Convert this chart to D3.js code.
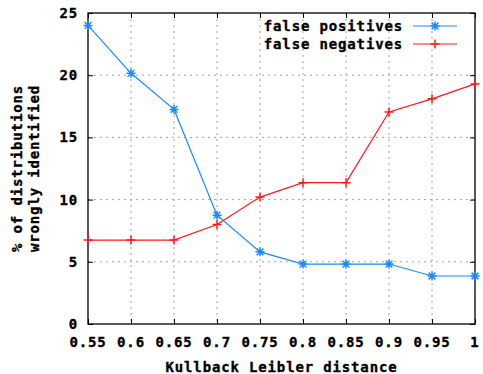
<!DOCTYPE html>
<html>

<head>
    <title>KL distance</title>
    <script src="https://cdn.jsdelivr.net/npm/d3@7"></script>
    <style>
        body { margin: 0; background: #fff; }
        svg { display: block; }
        text { font-family: 'DejaVu Sans Mono', monospace; font-weight: bold; font-size: 14px; letter-spacing: 0.85px; fill: #000; stroke: #000; stroke-width: 0.35px; }
    </style>
</head>

<body>
    <svg width="483" height="374" id="mainsvg"></svg>
    <script>
        // data
        const distance = [0.55, 0.6, 0.65, 0.7, 0.75, 0.8, 0.85, 0.9, 0.95, 1];
        const falsePositives = [24.0, 20.15, 17.25, 8.75, 5.8, 4.82, 4.82, 4.82, 3.86, 3.86];
        const falseNegatives = [6.75, 6.75, 6.75, 8.0, 10.2, 11.36, 11.36, 17.05, 18.1, 19.3];
        const xTicks = [0.55, 0.6, 0.65, 0.7, 0.75, 0.8, 0.85, 0.9, 0.95, 1];
        const xTickLabels = ['0.55', '0.6', '0.65', '0.7', '0.75', '0.8', '0.85', '0.9', '0.95', '1'];
        const yTicks = [0, 5, 10, 15, 20, 25];
        const seriesNames = ['false positives', 'false negatives'];

        const svg = d3.select('svg');
        const margin = { top: 13, right: 8, bottom: 50, left: 88 };
        const width = +svg.attr('width');
        const height = +svg.attr('height');
        const innerWidth = width - margin.left - margin.right;
        const innerHeight = height - margin.top - margin.bottom;
        const g = svg.append('g').attr('transform', `translate(${margin.left}, ${margin.top})`);

        const xScale = d3.scaleLinear().domain([0.55, 1]).range([0, innerWidth]);
        const yScale = d3.scaleLinear().domain([0, 25]).range([innerHeight, 0]);

        // grid
        g.append('g').selectAll('line').data(xTicks.slice(1, -1)).join('line')
            .attr('x1', d => xScale(d)).attr('x2', d => xScale(d))
            .attr('y1', 0).attr('y2', innerHeight)
            .attr('stroke', '#a0a0a0').attr('stroke-dasharray', '2,4');
        g.append('g').selectAll('line').data(yTicks.slice(1, -1)).join('line')
            .attr('y1', d => yScale(d)).attr('y2', d => yScale(d))
            .attr('x1', 0).attr('x2', innerWidth)
            .attr('stroke', '#a0a0a0').attr('stroke-dasharray', '2,4');

        // axes: ticks pointing inwards on all four sides, labels drawn separately
        const axes = [
            g.append('g').attr('transform', `translate(0, ${innerHeight})`)
                .call(d3.axisBottom(xScale).tickValues(xTicks).tickSize(-5)),
            g.append('g').call(d3.axisLeft(yScale).tickValues(yTicks).tickSize(-5)),
            g.append('g').call(d3.axisTop(xScale).tickValues(xTicks).tickSize(-5)),
            g.append('g').attr('transform', `translate(${innerWidth}, 0)`)
                .call(d3.axisRight(yScale).tickValues(yTicks).tickSize(-5))
        ];
        axes.forEach(a => { a.selectAll('text').remove(); a.select('.domain').remove(); });
        g.selectAll('.tick line').attr('stroke', '#000');
        g.append('rect').attr('width', innerWidth).attr('height', innerHeight)
            .attr('fill', 'none').attr('stroke', '#000').attr('stroke-width', 1.3);

        g.append('g').selectAll('text').data(xTicks).join('text')
            .attr('x', d => xScale(d)).attr('y', innerHeight + 23)
            .attr('text-anchor', 'middle').text((d, i) => xTickLabels[i]);
        g.append('g').selectAll('text').data(yTicks).join('text')
            .attr('x', -10).attr('y', d => yScale(d) + 5)
            .attr('text-anchor', 'end').text(d => d);

        // titles
        svg.append('text').attr('x', margin.left + innerWidth / 2).attr('y', 372)
            .attr('text-anchor', 'middle').text('Kullback Leibler distance');
        const yTitle = svg.append('g').attr('transform', `translate(0, ${margin.top + innerHeight / 2}) rotate(-90)`);
        yTitle.append('text').attr('x', 0).attr('y', 22).attr('text-anchor', 'middle').text('% of distributions');
        yTitle.append('text').attr('x', 0).attr('y', 39).attr('text-anchor', 'middle').text('wrongly identified');

        // series
        const colors = ['#1a8cff', '#ff1a1a'];
        const line = d3.line().x((d, i) => xScale(distance[i])).y(d => yScale(d));
        const star = (sel, r) => sel.attr('d', `M${-r},0H${r}M0,${-r}V${r}M${-r * 0.75},${-r * 0.75}L${r * 0.75},${r * 0.75}M${-r * 0.75},${r * 0.75}L${r * 0.75},${-r * 0.75}`);
        const plus = (sel, r) => sel.attr('d', `M${-r},0H${r}M0,${-r}V${r}`);
        const markers = [star, plus];

        [falsePositives, falseNegatives].forEach((vals, k) => {
            g.append('path').datum(vals).attr('d', line)
                .attr('fill', 'none').attr('stroke', colors[k]).attr('stroke-width', 1.2);
            g.selectAll(null).data(vals).join('path')
                .attr('transform', (d, i) => `translate(${xScale(distance[i])}, ${yScale(d)})`)
                .call(markers[k], 4.5)
                .attr('stroke', colors[k]).attr('stroke-width', 1.5).attr('fill', 'none');
        });

        // legend
        const legend = svg.append('g');
        seriesNames.forEach((name, k) => {
            const y = 26 + k * 18;
            legend.append('text').attr('x', 403).attr('y', y + 5).attr('text-anchor', 'end').text(name);
            legend.append('line').attr('x1', 413).attr('x2', 457).attr('y1', y).attr('y2', y)
                .attr('stroke', colors[k]).attr('stroke-width', 1.2);
            legend.append('path').attr('transform', `translate(435, ${y})`).call(markers[k], 4.5)
                .attr('stroke', colors[k]).attr('stroke-width', 1.5).attr('fill', 'none');
        });
    </script>
</body>

</html>
